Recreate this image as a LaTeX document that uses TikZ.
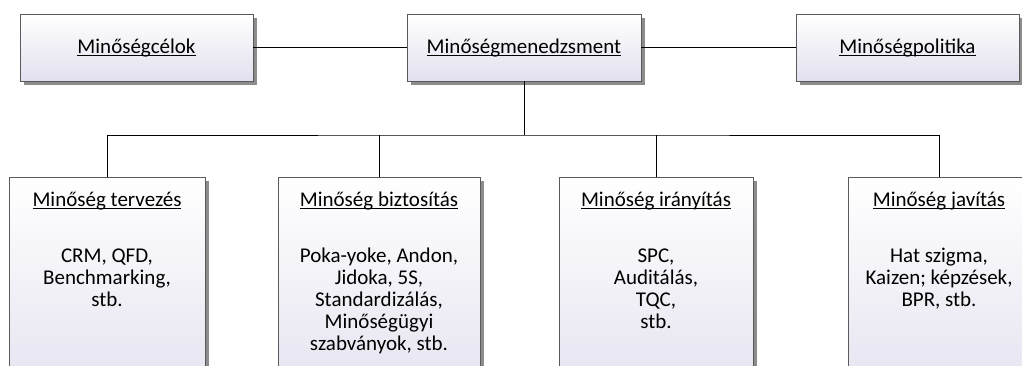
\documentclass[tikz,border=0pt]{standalone}
\usepackage{fontspec}
\setmainfont{Carlito}
\usetikzlibrary{shadows}
\definecolor{lav}{HTML}{E2E0EE}
\definecolor{bordergray}{HTML}{5A5A5A}
\definecolor{shgray}{HTML}{8C8C8C}
\newcommand\myul[1]{\setbox0\hbox{#1}\rlap{\rule[-2.6pt]{\wd0}{0.9pt}}\box0}
\newcommand\blines[1]{\begin{tabular}[t]{@{}c@{}}#1\end{tabular}}
\begin{document}
\begin{tikzpicture}[x=1pt,y=-1pt,
  font=\fontsize{21}{22}\selectfont,
  box/.style={rectangle, draw=bordergray, line width=0.9pt, top color=white, bottom color=lav,
    general shadow={fill=shgray, shadow xshift=4pt, shadow yshift=-4pt}, inner sep=0pt},
  topbox/.style={box, minimum height=67pt},
  lowbox/.style={box, anchor=north, minimum height=240pt},
  ttl/.style={anchor=base, inner sep=0pt},
  body/.style={anchor=base, inner sep=0pt},
  conn/.style={draw=black, line width=0.9pt}]
\useasboundingbox (0,0) rectangle (1022,365);
\clip (0,0) rectangle (1022,365);

% top row
\node[topbox, minimum width=233pt] (cel) at (136.5,47.5) {};
\node[topbox, minimum width=234pt] (mgmt) at (524,47.5) {};
\node[topbox, minimum width=223pt] (pol) at (907.5,47.5) {};
\node[ttl] (celt) at (136.5,53) {\myul{Minőségcélok}};
\node[ttl] (mgmtt) at (524,53) {\myul{Minőségmenedzsment}};
\node[ttl] (polt) at (907.5,53) {\myul{Minőségpolitika}};

% bottom row
\node[lowbox, minimum width=196pt] (b1) at (107,177) {};
\node[lowbox, minimum width=202pt] (b2) at (379,177) {};
\node[lowbox, minimum width=194pt] (b3) at (656,177) {};
\node[lowbox, minimum width=182pt] (b4) at (939,177) {};

\node[ttl] (b1t) at (107,206) {\myul{Minőség tervezés}};
\node[ttl] (b2t) at (379,206) {\myul{Minőség biztosítás}};
\node[ttl] (b3t) at (656,206) {\myul{Minőség irányítás}};
\node[ttl] (b4t) at (939,206) {\myul{Minőség javítás}};

\node[body] (b1b) at (107,262) {\blines{CRM, QFD,\\Benchmarking,\\stb.}};
\node[body] (b2b) at (379,262) {\blines{Poka-yoke, Andon,\\Jidoka, 5S,\\Standardizálás,\\Minőségügyi\\szabványok, stb.}};
\node[body] (b3b) at (656,262) {\blines{SPC,\\Auditálás,\\TQC,\\stb.}};
\node[body] (b4b) at (939,262) {\blines{Hat szigma,\\Kaizen; képzések,\\BPR, stb.}};

% connectors
\coordinate (hub) at (524,135);
\draw[conn] (cel) -- (mgmt);
\draw[conn] (mgmt) -- (pol);
\draw[conn] (mgmt.south) -- (hub);
\draw[conn] (b1.north) |- (hub) -| (b4.north);
\draw[conn] (b2.north) -- (b2.north |- hub);
\draw[conn] (b3.north) -- (b3.north |- hub);
\end{tikzpicture}
\end{document}
